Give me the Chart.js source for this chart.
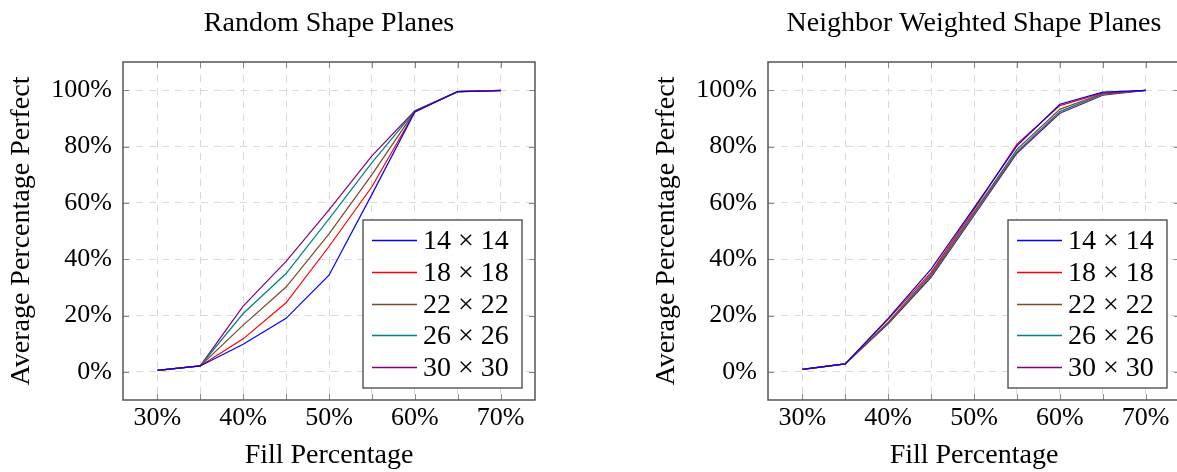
<!DOCTYPE html>
<html>
<head>
<meta charset="utf-8">
<script src="https://cdn.jsdelivr.net/npm/chart.js@4"></script>
<style>
  html, body { margin: 0; padding: 0; background: #fff; overflow: hidden; }
  body { width: 1177px; height: 472px; position: relative; }
  .box { position: absolute; top: 0; width: 660px; height: 472px; }
</style>
</head>
<body>
<div class="box" style="left:0px"><canvas id="leftChart"></canvas></div>
<div class="box" style="left:645px"><canvas id="rightChart"></canvas></div>
<script>
// fill percentages (x), grid positions and tick labels
const fillPct = [30, 35, 40, 45, 50, 55, 60, 65, 70];
const xTicks = [30, 35, 40, 45, 50, 55, 60, 65, 70];
const xLabelTicks = [30, 40, 50, 60, 70];
const yTicks = [0, 20, 40, 60, 80, 100];
const sizeLabels = ["14 × 14", "18 × 18", "22 × 22", "26 × 26", "30 × 30"];
const lineColors = ["#0000ff", "#ff0000", "#734d26", "#008080", "#800080"];

// Random Shape Planes - average percentage perfect
const random14 = [0.5, 2.1, 9.8, 19.0, 34.3, 63.0, 92.3, 99.5, 99.8];
const random18 = [0.5, 2.1, 11.7, 24.5, 44.5, 65.7, 92.3, 99.6, 99.8];
const random22 = [0.5, 2.1, 16.6, 30.1, 49.0, 70.0, 92.5, 99.5, 99.9];
const random26 = [0.5, 2.1, 20.7, 34.9, 54.3, 74.3, 92.6, 99.4, 99.9];
const random30 = [0.5, 2.1, 23.3, 39.2, 57.5, 76.7, 92.7, 99.5, 99.9];

// Neighbor Weighted Shape Planes
const neighbor14 = [0.9, 2.8, 19.0, 36.5, 58.2, 80.2, 95.0, 99.3, 99.9];
const neighbor18 = [0.9, 2.8, 18.6, 35.3, 57.6, 80.8, 94.5, 99.0, 99.9];
const neighbor22 = [0.9, 2.8, 17.6, 34.7, 56.7, 79.0, 93.2, 98.8, 99.9];
const neighbor26 = [0.9, 2.8, 17.3, 34.1, 56.2, 78.2, 92.4, 98.6, 99.9];
const neighbor30 = [0.9, 2.8, 17.0, 33.5, 55.5, 77.6, 91.8, 98.2, 99.9];

const FONT = "'Liberation Serif', 'Times New Roman', serif";
const FS = 28;
const TICK_FS = 26;

function makeDatasets(series) {
  return series.map(function (vals, i) {
    return {
      label: sizeLabels[i],
      data: vals.map(function (v, j) { return { x: fillPct[j], y: v }; }),
      borderColor: lineColors[i],
      backgroundColor: lineColors[i],
      borderWidth: 1.2,
      pointRadius: 0,
      tension: 0,
      fill: false
    };
  });
}

// frame + inward ticks + boxed legend, pgfplots style
const framePlugin = {
  id: "frame",
  afterDatasetsDraw(chart) {
    const ctx = chart.ctx;
    const a = chart.chartArea;
    const xs = chart.scales.x, ys = chart.scales.y;
    ctx.save();
    ctx.strokeStyle = "#8a8a8a";
    ctx.lineWidth = 1;
    ctx.beginPath();
    xTicks.forEach(function (t) {
      const px = Math.round(xs.getPixelForValue(t)) + 0.5;
      ctx.moveTo(px, a.bottom); ctx.lineTo(px, a.bottom - 6);
      ctx.moveTo(px, a.top); ctx.lineTo(px, a.top + 6);
    });
    yTicks.forEach(function (t) {
      const py = Math.round(ys.getPixelForValue(t)) + 0.5;
      ctx.moveTo(a.left, py); ctx.lineTo(a.left + 6, py);
      ctx.moveTo(a.right, py); ctx.lineTo(a.right - 6, py);
    });
    ctx.stroke();
    ctx.strokeStyle = "#555";
    ctx.lineWidth = 1.5;
    ctx.strokeRect(a.left, a.top, a.right - a.left, a.bottom - a.top);

    // legend box in lower right corner
    const w = 159, h = 168;
    const lx = a.right - 13 - w, ly = a.bottom - 12 - h;
    ctx.fillStyle = "#fff";
    ctx.fillRect(lx, ly, w, h);
    ctx.strokeStyle = "#444";
    ctx.lineWidth = 1.3;
    ctx.strokeRect(lx, ly, w, h);
    ctx.font = FS + "px " + FONT;
    ctx.textBaseline = "middle";
    ctx.textAlign = "left";
    chart.data.datasets.forEach(function (ds, i) {
      const cy = Math.round(ly + 20 + i * 31.8) + 0.5;
      ctx.strokeStyle = ds.borderColor;
      ctx.lineWidth = 1.3;
      ctx.beginPath();
      ctx.moveTo(lx + 9, cy); ctx.lineTo(lx + 54, cy);
      ctx.stroke();
      ctx.fillStyle = "#000";
      ctx.fillText(ds.label, lx + 60, cy + 1);
    });
    ctx.restore();
  }
};

function makeChart(id, title, series) {
  return new Chart(document.getElementById(id), {
    type: "line",
    data: { datasets: makeDatasets(series) },
    plugins: [framePlugin],
    options: {
      responsive: true,
      maintainAspectRatio: false,
      animation: false,
      layout: { padding: { left: 0, right: 125, top: 0, bottom: 0 } },
      plugins: {
        legend: { display: false },
        tooltip: { enabled: false },
        title: {
          display: true,
          text: title,
          fullSize: false,
          color: "#000",
          font: { family: FONT, size: FS, weight: "normal" },
          padding: { top: 7, bottom: 21.4 }
        }
      },
      scales: {
        x: {
          type: "linear",
          min: 26, max: 74,
          afterBuildTicks: function (s) { s.ticks = xTicks.map(function (v) { return { value: v }; }); },
          afterFit: function (s) { s.height = 72; },
          grid: { color: "#d9d9d9", lineWidth: 1, drawTicks: false },
          border: { display: false, dash: [7, 6] },
          ticks: {
            color: "#000", padding: 3,
            maxRotation: 0, minRotation: 0, autoSkip: false,
            font: { family: FONT, size: TICK_FS },
            callback: function (v) { return xLabelTicks.indexOf(v) >= 0 ? v + "%" : ""; }
          },
          title: {
            display: true, text: "Fill Percentage", color: "#000",
            font: { family: FONT, size: FS },
            padding: { top: 0, bottom: 0 }
          }
        },
        y: {
          type: "linear",
          min: -10, max: 110,
          afterBuildTicks: function (s) { s.ticks = yTicks.map(function (v) { return { value: v }; }); },
          afterFit: function (s) { s.width = 123; },
          grid: { color: "#d9d9d9", lineWidth: 1, drawTicks: false },
          border: { display: false, dash: [7, 6] },
          ticks: {
            color: "#000", padding: 11,
            font: { family: FONT, size: TICK_FS },
            callback: function (v) { return v + "%"; }
          },
          title: {
            display: true, text: "Average Percentage Perfect", color: "#000",
            font: { family: FONT, size: FS },
            padding: { top: 5, bottom: 0 }
          }
        }
      }
    }
  });
}

makeChart("leftChart", "Random Shape Planes",
  [random14, random18, random22, random26, random30]);
makeChart("rightChart", "Neighbor Weighted Shape Planes",
  [neighbor14, neighbor18, neighbor22, neighbor26, neighbor30]);
</script>
</body>
</html>
